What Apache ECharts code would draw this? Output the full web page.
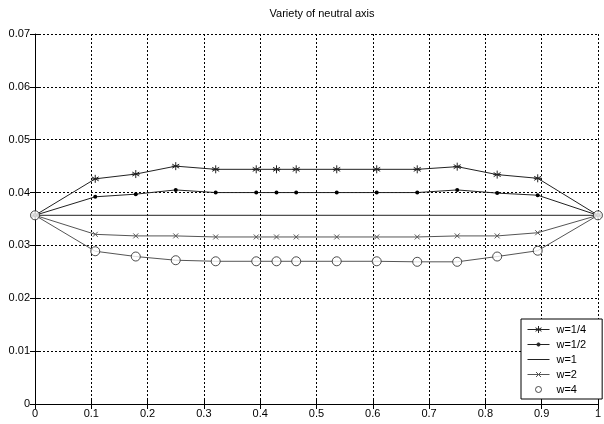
<!DOCTYPE html>
<html>
<head>
<meta charset="utf-8">
<script src="https://cdn.jsdelivr.net/npm/echarts@6/dist/echarts.min.js"></script>
<style>
  html, body { margin: 0; padding: 0; background: #fff; }
  #chart { width: 604px; height: 424px; }
</style>
</head>
<body>
<div id="chart"></div>
<script>
const xs = [0, 0.107, 0.179, 0.25, 0.321, 0.393, 0.429, 0.464, 0.536, 0.607, 0.679, 0.75, 0.821, 0.893, 1]
const w14 = [0.0357, 0.0426, 0.0435, 0.0450, 0.0444, 0.0444, 0.0444, 0.0444, 0.0444, 0.0444, 0.0444, 0.0449, 0.0434, 0.0427, 0.0357]
const w12 = [0.0357, 0.0392, 0.0397, 0.0405, 0.0400, 0.0400, 0.0400, 0.0400, 0.0400, 0.0400, 0.0400, 0.0405, 0.0399, 0.0395, 0.0357]
const w1 = [0.0357, 0.0357]
const w1x = [0, 1]
const w2 = [0.0357, 0.0321, 0.0318, 0.0318, 0.0316, 0.0316, 0.0316, 0.0316, 0.0316, 0.0316, 0.0316, 0.0318, 0.0318, 0.0324, 0.0357]
const w4 = [0.0357, 0.0289, 0.0279, 0.0272, 0.0270, 0.0270, 0.0270, 0.0270, 0.0270, 0.0270, 0.0269, 0.0269, 0.0279, 0.0290, 0.0357]
const names = ['w=1/4', 'w=1/2', 'w=1', 'w=2', 'w=4']
const xTickLabels = ['0', '0.1', '0.2', '0.3', '0.4', '0.5', '0.6', '0.7', '0.8', '0.9', '1']
const yTickLabels = ['0', '0.01', '0.02', '0.03', '0.04', '0.05', '0.06', '0.07']

const font = 'Liberation Sans, Arial, sans-serif'
const ink = '#222'
const gray = '#555'
const pair = (x, y) => x.map((v, i) => [v, y[i]])

// marker shapes
const star = 'path://M0,-1L0,1M-0.87,-0.5L0.87,0.5M-0.87,0.5L0.87,-0.5M-1,0L1,0'
const cross = 'path://M-1,-1L1,1M-1,1L1,-1'

// legend samples, drawn in a 22x8 box (the two leading moves fix the box)
const box = 'M-11,-4M11,4'
const lineSeg = 'M-11,0L11,0'
const icons = [
  'path://' + box + lineSeg + 'M0,-3.5L0,3.5M-3,-1.75L3,1.75M-3,1.75L3,-1.75',
  'path://' + box + lineSeg + 'M-1.6,0A1.6,1.6 0 1,0 1.6,0A1.6,1.6 0 1,0 -1.6,0Z',
  'path://' + box + lineSeg,
  'path://' + box + lineSeg + 'M-2.5,-2.5L2.5,2.5M-2.5,2.5L2.5,-2.5',
  'path://' + box + 'M-3,0A3,3 0 1,0 3,0A3,3 0 1,0 -3,0Z',
]
const iconFill = [ink, ink, ink, gray, '#fff']
const iconStroke = [ink, ink, ink, gray, ink]

const chart = echarts.init(document.getElementById('chart'))

const gridLine = { show: true, lineStyle: { color: '#000', type: [2, 2], width: 1 } }
const tick = { show: true, inside: true, length: 5, lineStyle: { color: '#000' } }

chart.setOption({
  animation: false,
  backgroundColor: '#fff',
  title: {
    text: 'Variety of neutral axis',
    left: 317, top: 3, textAlign: 'center',
    textStyle: { fontFamily: font, fontSize: 11, fontWeight: 'normal', color: '#000' },
  },
  grid: { left: 35, right: 4, top: 34, bottom: 20 },
  legend: {
    data: names.map((n, i) => ({
      name: n,
      icon: icons[i],
      itemStyle: { color: iconFill[i], borderColor: iconStroke[i], borderWidth: 1 },
    })),
    orient: 'vertical',
    left: 521, top: 319,
    itemWidth: 22, itemHeight: 8, itemGap: 4,
    padding: [5, 16, 4, 6],
    borderColor: '#000', borderWidth: 1,
    backgroundColor: '#fff',
    textStyle: { fontFamily: font, fontSize: 11, color: '#000', padding: [0, 0, 0, 2] },
  },
  xAxis: [
    {
      type: 'value', min: 0, max: 1, interval: 0.1,
      axisLine: { show: true, onZero: false, lineStyle: { color: '#000' } },
      axisTick: tick,
      splitLine: gridLine,
      axisLabel: {
        fontFamily: font, fontSize: 11, color: '#000', margin: 4,
        formatter: (v) => xTickLabels[Math.round(v * 10)],
      },
    },
    {
      type: 'value', position: 'top', min: 0, max: 1, interval: 0.1,
      axisLine: { show: false }, axisTick: tick, axisLabel: { show: false }, splitLine: { show: false },
    },
  ],
  yAxis: [
    {
      type: 'value', min: 0, max: 0.07, interval: 0.01,
      axisLine: { show: true, onZero: false, lineStyle: { color: '#000' } },
      axisTick: tick,
      splitLine: gridLine,
      axisLabel: {
        fontFamily: font, fontSize: 11, color: '#000', margin: 5,
        formatter: (v) => yTickLabels[Math.round(v * 100)],
      },
    },
    {
      type: 'value', position: 'right', min: 0, max: 0.07, interval: 0.01,
      axisLine: { show: false }, axisTick: tick, axisLabel: { show: false }, splitLine: { show: false },
    },
  ],
  series: [
    {
      name: 'w=1/4', type: 'line', data: pair(xs, w14),
      symbol: star, symbolSize: 8, showAllSymbol: true,
      lineStyle: { color: ink, width: 1 },
      itemStyle: { color: ink, borderColor: ink, borderWidth: 1 },
    },
    {
      name: 'w=1/2', type: 'line', data: pair(xs, w12),
      symbol: 'circle', symbolSize: 4, showAllSymbol: true,
      lineStyle: { color: ink, width: 1 },
      itemStyle: { color: '#000', borderWidth: 0 },
    },
    {
      name: 'w=1', type: 'line', data: pair(w1x, w1),
      symbol: 'none',
      lineStyle: { color: ink, width: 1 },
      itemStyle: { color: ink },
    },
    {
      name: 'w=2', type: 'line', data: pair(xs, w2),
      symbol: cross, symbolSize: 5, showAllSymbol: true,
      lineStyle: { color: gray, width: 1 },
      itemStyle: { color: gray, borderColor: gray, borderWidth: 1 },
    },
    {
      name: 'w=4 line', type: 'line', data: pair(xs, w4),
      symbol: 'none',
      lineStyle: { color: gray, width: 1 },
    },
    {
      name: 'w=4', type: 'scatter', data: pair(xs, w4),
      symbol: 'circle', symbolSize: 9,
      itemStyle: { color: '#fff', borderColor: ink, borderWidth: 1 },
      z: 3,
    },
  ],
})
</script>
</body>
</html>
